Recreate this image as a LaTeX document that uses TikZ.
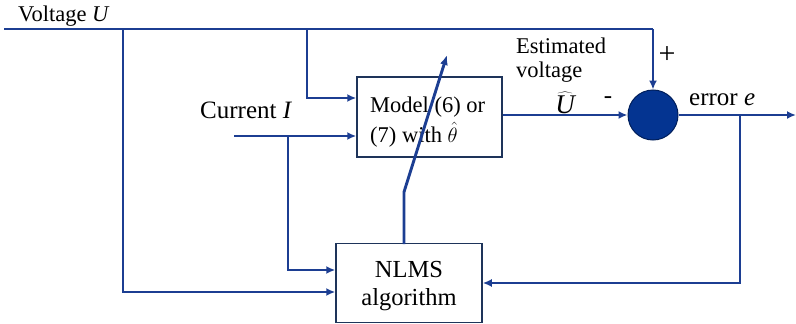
\documentclass[tikz,border=0pt]{standalone}
\usepackage{fontspec}
\setmainfont{Liberation Serif}
\usetikzlibrary{arrows.meta,calc}
\definecolor{linec}{RGB}{28,62,146}
\definecolor{boxc}{RGB}{30,52,90}
\definecolor{sumfill}{RGB}{4,52,145}
\definecolor{sumdraw}{RGB}{0,30,90}
\begin{document}
\begin{tikzpicture}[x=1pt,y=1pt,
  sig/.style={draw=linec,line width=2.9pt},
  arr/.style={sig,-{Latex[length=9pt,width=8pt]}},
  blk/.style={draw=boxc,line width=1.5pt,rectangle,inner sep=0pt},
  lbl/.style={inner sep=0pt,font=\fontsize{25}{28}\selectfont},
  slbl/.style={inner sep=0pt,font=\fontsize{22.5}{24}\selectfont}]
\useasboundingbox (0,0) rectangle (796,-324);
% blocks
\node[blk,minimum width=145,minimum height=80] (model) at (429.5,-117) {};
\node[inner sep=0pt,anchor=base west,align=left,font=\fontsize{22.5}{30}\selectfont] (modeltxt) at (370,-142) {Model (6) or\\(7) with $\hat{\theta}$};
\node[blk,minimum width=146,minimum height=79] (nlms) at (409,-283) {};
\node[inner sep=0pt,anchor=base,align=center,font=\fontsize{24.5}{28}\selectfont] (nlmstxt) at (409,-305) {NLMS\\algorithm};
\node[circle,fill=sumfill,draw=sumdraw,line width=1pt,minimum size=50,inner sep=0pt] (sum) at (653,-115) {};
% coordinates
\coordinate (vin) at (4,-29);
\coordinate (j1) at (123,-29);
\coordinate (j2) at (307,-29);
\coordinate (vc) at (653,-29);
\coordinate (cin) at (234,-136);
\coordinate (j3) at (288,-136);
\coordinate (eout) at (796,-115);
\coordinate (j4) at (740,-115);
\coordinate (t0) at (404,-244);
\coordinate (t1) at (404,-192);
\coordinate (t2) at (447,-55);
% voltage line
\draw[sig] (vin) -- (vc);
\draw[arr] (vc) -- (sum.north);
\draw[arr] (j1) |- ($(nlms.west)+(0,-9)$);
\draw[arr] (j2) |- ($(model.west)+(0,19)$);
% current
\draw[arr] (cin) -- (cin -| model.west);
\draw[arr] (j3) |- ($(nlms.west)+(0,13)$);
% model output
\draw[arr] (model.east |- sum.west) -- (sum.west);
\draw[arr] (sum.east) -- (eout);
\draw[arr] (j4) |- (nlms.east);
% adjustment arrow
\draw[sig,-{Latex[length=10pt,width=8pt]}] (t0) -- (t1) -- (t2);
% labels
\node[slbl,anchor=base west] (lv) at (18,-21) {Voltage \textit{U}};
\node[lbl,anchor=base west] (lc) at (200,-118) {Current \textit{I}};
\node[slbl,anchor=base west,align=left] (le) at (516,-77) {Estimated\\voltage};
\node[inner sep=0pt,anchor=base,font=\fontsize{27}{28}\selectfont] (lu) at (565,-113) {$\widehat{\textit{U}}$};
\node[lbl] (lm) at (608,-100) {-};
\node[inner sep=0pt,font=\fontsize{30}{30}\selectfont] (lp) at (667,-55) {+};
\node[lbl,anchor=base west] (lerr) at (689,-105) {error \textit{e}};
\end{tikzpicture}
\end{document}
